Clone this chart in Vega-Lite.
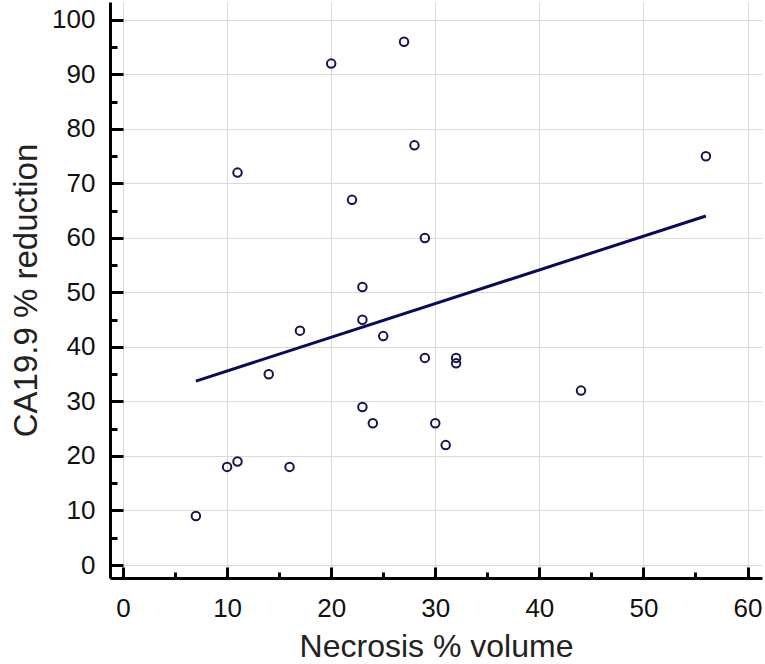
{
  "$schema": "https://vega.github.io/schema/vega-lite/v6.json",
  "autosize": {"type": "none"},
  "padding": {"left": 110, "top": 2, "right": 3, "bottom": 86},
  "width": 652,
  "height": 576,
  "background": "white",
  "config": {
    "view": {"stroke": null},
    "font": "Liberation Sans",
    "axis": {"labelFont": "Liberation Sans", "titleFont": "Liberation Sans", "labelColor": "#111111", "titleColor": "#222222", "titleFontWeight": "normal"}
  },
  "data": {
    "values": [
      {"necrosis": 7, "ca199": 9},
      {"necrosis": 10, "ca199": 18},
      {"necrosis": 11, "ca199": 19},
      {"necrosis": 16, "ca199": 18},
      {"necrosis": 14, "ca199": 35},
      {"necrosis": 17, "ca199": 43},
      {"necrosis": 11, "ca199": 72},
      {"necrosis": 20, "ca199": 92},
      {"necrosis": 22, "ca199": 67},
      {"necrosis": 23, "ca199": 51},
      {"necrosis": 23, "ca199": 45},
      {"necrosis": 23, "ca199": 29},
      {"necrosis": 24, "ca199": 26},
      {"necrosis": 25, "ca199": 42},
      {"necrosis": 27, "ca199": 96},
      {"necrosis": 28, "ca199": 77},
      {"necrosis": 29, "ca199": 60},
      {"necrosis": 29, "ca199": 38},
      {"necrosis": 30, "ca199": 26},
      {"necrosis": 31, "ca199": 22},
      {"necrosis": 32, "ca199": 38},
      {"necrosis": 32, "ca199": 37},
      {"necrosis": 44, "ca199": 32},
      {"necrosis": 56, "ca199": 75}
    ]
  },
  "layer": [
    {
      "mark": {"type": "point", "shape": "circle", "filled": false, "size": 72, "strokeWidth": 2, "color": "#141450", "opacity": 1},
      "encoding": {
        "x": {
          "field": "necrosis", "type": "quantitative",
          "scale": {"domain": [-1.25, 61.39], "nice": false, "zero": false},
          "axis": {
            "title": "Necrosis % volume", "titleFontSize": 32, "titlePadding": 10,
            "values": [0, 10, 20, 30, 40, 50, 60],
            "labelFontSize": 26, "labelPadding": 28, "labelFlush": false,
            "tickSize": -11, "tickWidth": 3, "tickColor": "black",
            "domainWidth": 3, "domainColor": "black",
            "grid": true, "gridColor": "#dadada", "gridWidth": 1
          }
        },
        "y": {
          "field": "ca199", "type": "quantitative",
          "scale": {"domain": [-2.385, 103.3], "nice": false, "zero": false},
          "axis": {
            "title": "CA19.9 % reduction", "titleFontSize": 33, "titlePadding": 8,
            "values": [0, 10, 20, 30, 40, 50, 60, 70, 80, 90, 100],
            "labelFontSize": 26, "labelPadding": 28, "labelFlush": false,
            "tickSize": -13, "tickWidth": 3, "tickColor": "black",
            "domainWidth": 3, "domainColor": "black",
            "grid": true, "gridColor": "#dadada", "gridWidth": 1
          }
        }
      }
    },
    {
      "transform": [{"regression": "ca199", "on": "necrosis", "extent": [7, 56]}],
      "mark": {"type": "line", "color": "#0a0a5c", "strokeWidth": 3},
      "encoding": {
        "x": {
          "field": "necrosis", "type": "quantitative",
          "axis": {
            "orient": "bottom", "title": null, "labels": false, "domain": false, "grid": false,
            "values": [5, 15, 25, 35, 45, 55],
            "tickSize": -6, "tickWidth": 3, "tickColor": "black"
          }
        },
        "y": {
          "field": "ca199", "type": "quantitative",
          "axis": {
            "orient": "left", "title": null, "labels": false, "domain": false, "grid": false,
            "values": [5, 15, 25, 35, 45, 55, 65, 75, 85, 95],
            "tickSize": -7, "tickWidth": 3, "tickColor": "black"
          }
        }
      }
    }
  ],
  "resolve": {"axis": {"x": "independent", "y": "independent"}}
}
